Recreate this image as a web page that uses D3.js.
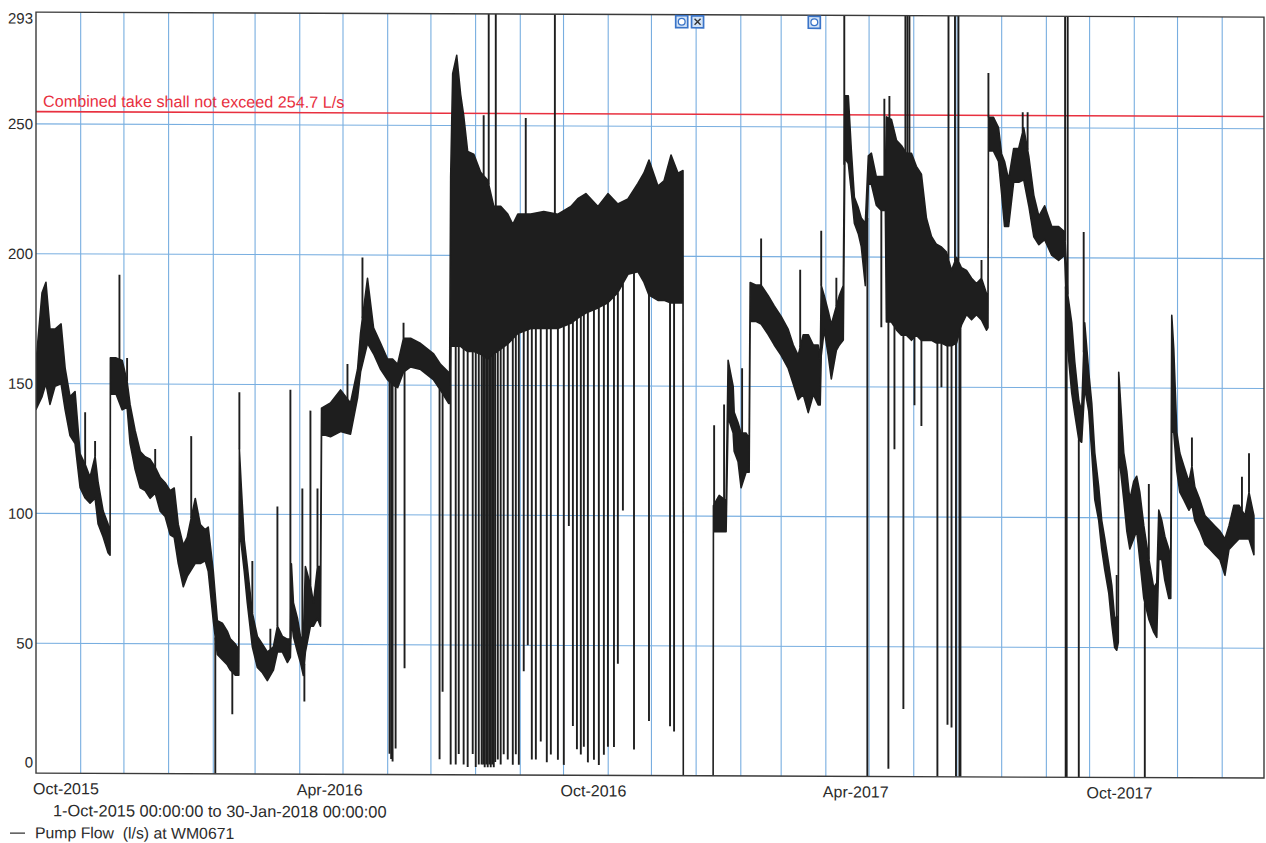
<!DOCTYPE html>
<html lang="en">
<head>
<meta charset="UTF-8">
<title>Pump Flow at WM0671</title>
<script src="https://d3js.org/d3.v7.min.js"></script>
<style>
  body { margin: 0; background: #fff; }
  svg { display: block; font-family: "Liberation Sans", Arial, sans-serif; }
</style>
</head>
<body>
<svg id="chart" width="1266" height="843"></svg>
<script>
// record runs 1-Oct-2015 .. 30-Jan-2018, day = days since 1-Oct-2015
// envelope of the flow trace: [day, low l/s, high l/s]
const flowBand = [
  [0, 140, 158], [4.2, 145, 185], [6.9, 150, 189], [9.7, 142, 171], [13.2, 149, 171], [17.4, 150, 173],
  [20.2, 140, 156], [23.6, 130, 145], [27.1, 127, 147], [30.6, 110, 123], [34.1, 106, 119], [37.5, 104, 114],
  [41.0, 106, 122], [43.1, 96, 112], [46.6, 91, 101], [50.0, 85, 96], [51.4, 84, 92], [51.6, 146, 160],
  [55.6, 146, 160], [59.8, 140, 159], [63.2, 141, 151], [65.3, 127, 142], [68.8, 117, 132], [72.3, 110, 124],
  [75.7, 109, 122], [79.2, 106, 121], [82.7, 108, 118], [86.2, 101, 114], [89.6, 99, 112], [93.1, 92, 109],
  [95.9, 91, 110], [98.7, 81, 96], [102.2, 72, 88], [104.9, 76, 91], [110.5, 81, 106], [114.0, 81, 96],
  [117.4, 82, 94], [119.5, 78, 95], [123.0, 59, 78], [125.8, 46, 59], [129.3, 44, 58], [132.7, 42, 55],
  [134.8, 40, 52], [138.3, 38, 50], [140.7, 38, 48], [141.1, 95, 125], [142.5, 88, 110], [144.5, 78, 90],
  [146.6, 66, 80], [150.1, 49, 62], [153.6, 41, 53], [157.1, 39, 50], [160.5, 36, 47], [164.7, 40, 49],
  [167.5, 47, 57], [171.0, 47, 53], [174.4, 43, 52], [176.5, 45, 52], [177.2, 60, 81], [178.6, 53, 66],
  [181.4, 47, 60], [183.5, 43, 53], [185.5, 38, 52], [186.9, 47, 80], [190.4, 57, 73], [192.5, 57, 66],
  [195.3, 60, 80], [197.4, 57, 80], [198.1, 131, 141], [204.3, 130, 143], [211.3, 132, 148], [218.2, 131, 143],
  [223.1, 145, 156], [225.2, 155, 170], [230.0, 166, 191], [234.2, 162, 172], [239.1, 156, 166], [243.9, 152, 160],
  [247.4, 150, 160], [250.9, 149, 158], [255.0, 155, 168], [259.9, 157, 168], [266.9, 156, 166], [275.9, 152, 162],
  [280.7, 148, 158], [286.3, 143, 155], [287.0, 143, 155],
  [287.7, 165, 230], [289.1, 165, 270], [291.9, 165, 277], [294.6, 165, 262], [296.7, 164, 254], [299.5, 163, 240],
  [303.7, 163, 239], [308.5, 162, 232], [313.4, 160, 229], [317.6, 162, 219], [322.4, 164, 219], [327.3, 166, 216],
  [330.8, 168, 212], [334.3, 170, 216], [343.3, 172, 216], [352.3, 172, 217], [362.1, 172, 216], [371.1, 174, 219],
  [375.9, 176, 222], [381.5, 178, 224], [389.9, 180, 219], [396.8, 182, 224], [403.7, 186, 220], [410.7, 193, 222],
  [417.6, 194, 228], [421.8, 190, 232], [425.3, 185, 237], [431.5, 183, 227], [435.7, 183, 229], [440.6, 182, 239],
  [445.4, 182, 232], [448.9, 182, 233], [449.1, 0, 0], [469.8, 0, 0],
  [470.0, 94, 104], [474.0, 94, 108], [478.8, 94, 106], [480.2, 138, 160], [483.7, 132, 150], [484.4, 125, 140],
  [487.1, 121, 136], [489.2, 111, 132], [492.7, 117, 132], [494.8, 117, 130], [495.5, 175, 190], [499.7, 175, 189],
  [503.1, 174, 189], [508.0, 170, 185], [512.2, 166, 181], [517.0, 162, 177], [521.9, 157, 172], [525.4, 151, 166],
  [528.8, 145, 162], [532.3, 147, 170], [535.8, 140, 170], [539.3, 147, 166], [542.7, 143, 166], [544.1, 143, 160],
  [544.8, 162, 189], [546.9, 172, 185], [549.7, 162, 179], [551.8, 153, 174], [555.3, 164, 181], [557.3, 166, 185],
  [560.1, 168, 189], [561.2, 238, 262], [563.6, 236, 262], [565.7, 225, 241], [567.8, 213, 223], [570.5, 209, 219],
  [572.6, 204, 215], [575.4, 189, 213], [577.5, 228, 239], [579.6, 228, 240], [583.0, 220, 231], [586.5, 218, 231],
  [589.3, 218, 231], [590.0, 175, 254], [593.5, 175, 253], [597.0, 172, 245], [600.4, 170, 243], [603.9, 170, 240],
  [607.4, 168, 240], [610.8, 170, 235], [614.3, 168, 232], [617.8, 168, 215], [621.3, 168, 208], [624.7, 167, 205],
  [628.2, 167, 204], [631.7, 166, 202], [635.2, 166, 195], [638.7, 167, 200], [642.1, 174, 196], [645.6, 178, 195],
  [649.1, 176, 192], [652.5, 178, 190], [656.0, 176, 192], [659.5, 172, 186], [660.5, 173, 186],
  [660.8, 241, 254], [664.3, 241, 254], [667.8, 237, 250], [669.9, 225, 240], [672.0, 212, 237], [674.8, 212, 230],
  [678.3, 229, 242], [681.8, 229, 242], [685.3, 230, 250], [688.8, 220, 239], [692.3, 208, 224], [695.8, 205, 216],
  [699.8, 207, 220], [704.7, 201, 212], [709.5, 199, 212], [713.7, 201, 210], [715.8, 165, 186], [718.6, 148, 175],
  [720.7, 140, 160], [723.5, 130, 145], [725.5, 129, 141], [727.6, 150, 175], [730.4, 141, 156], [732.5, 125, 144],
  [734.6, 107, 125], [737.3, 99, 112], [739.4, 88, 99], [741.5, 80, 92], [744.3, 71, 82], [746.4, 59, 74],
  [748.4, 50, 61], [749.8, 49, 62], [750.9, 52, 62], [751.2, 125, 156], [754.7, 107, 125], [756.8, 95, 118],
  [758.9, 88, 107], [761.6, 92, 114], [763.7, 95, 116], [765.8, 84, 110], [768.6, 69, 97], [772.1, 61, 84],
  [775.5, 56, 73], [777.6, 54, 75], [779.0, 84, 103], [781.1, 84, 99], [783.2, 76, 93], [786.0, 69, 88],
  [787.3, 69, 84], [788.0, 133, 178], [789.4, 133, 165], [791.5, 118, 133], [793.6, 110, 125], [796.4, 107, 120],
  [799.9, 103, 114], [802.0, 105, 120], [804.0, 99, 112], [807.5, 95, 107], [811.0, 90, 101], [814.5, 88, 99],
  [817.9, 86, 97], [821.4, 84, 95], [824.9, 78, 92], [827.7, 88, 97], [831.1, 90, 105], [834.6, 92, 105],
  [838.8, 92, 101], [841.6, 92, 110], [845.0, 86, 101]
];

// single readings that shoot away from the envelope: [day, l/s]
const flowSpikes = [
  [34.1, 139], [41.0, 128], [57.9, 192], [63.2, 160], [82.7, 125], [107.7, 130], [124.4, 0], [136.2, 23],
  [141.1, 147], [150.1, 82], [162.6, 56], [167.5, 103], [176.5, 148], [184.8, 110], [186.2, 28], [190.4, 140],
  [195.3, 110], [216.1, 158], [226.5, 199], [245.3, 8], [246.4, 6], [247.4, 5], [249.5, 10], [255.0, 174], [255.7, 41],
  [280.0, 6], [282.1, 32],
  [287.7, 4], [291.2, 4], [293.3, 8], [296.7, 4], [299.5, 3], [303.0, 8], [305.1, 3], [307.2, 4],
  [309.2, 4], [310.3, 4], [311.3, 3], [312.4, 4], [313.4, 3], [314.5, 4], [315.5, 3], [316.5, 4],
  [317.6, 3], [318.6, 5], [320.4, 6], [322.4, 4], [324.5, 8], [327.3, 6], [330.8, 4], [332.9, 8],
  [335.0, 4], [338.4, 40], [341.2, 50], [344.0, 6], [346.8, 6], [350.2, 13], [354.4, 5], [357.2, 8],
  [362.1, 6], [366.2, 4], [369.7, 96], [372.5, 19], [375.3, 10], [378.0, 8], [380.1, 11], [382.9, 5],
  [387.1, 6], [390.5, 4], [394.0, 8], [396.8, 11], [401.0, 11], [403.7, 43], [407.2, 102], [414.9, 10],
  [425.3, 21], [439.9, 19], [442.7, 17],
  [310.6, 254], [314.1, 293], [319.0, 293], [339.8, 253], [360.0, 293],
  [470.5, 135], [477.4, 143], [489.9, 157], [503.1, 207], [530.2, 195], [544.8, 210], [555.3, 192], [560.8, 293],
  [576.8, 0], [586.5, 173], [588.6, 261], [591.4, 3], [592.1, 262], [595.6, 126], [601.8, 26], [603.2, 293],
  [604.6, 293], [606.0, 293], [609.5, 143], [614.3, 135], [625.4, 0], [628.2, 150], [632.4, 20], [633.1, 293],
  [635.2, 19], [637.6, 293], [638.3, 0], [640.0, 293], [640.7, 0], [641.4, 0], [656.0, 199], [660.8, 271],
  [684.6, 256], [688.0, 256], [714.0, 293], [714.4, 0], [715.1, 0], [715.8, 293], [723.5, 0], [726.9, 210],
  [749.8, 78], [769.3, 0], [772.1, 113], [802.0, 131], [836.7, 116], [841.6, 125]
];

// quality flags along the top edge: [day, symbol]
const gapMarkers = [[448, "o"], [459, "x"], [540, "o"]];

const yTicks = [0, 50, 100, 150, 200, 250, 293];
const xLabelDates = ["2015-10-01", "2016-04-01", "2016-10-01", "2017-04-01", "2017-10-01"];
const limitValue = 254.7;
const limitLabel = "Combined take shall not exceed 254.7 L/s";
const periodLabel = "1-Oct-2015 00:00:00 to 30-Jan-2018 00:00:00";
const seriesLabel = "Pump Flow  (l/s) at WM0671";

const t0 = new Date(2015, 9, 1);
const t1 = new Date(2018, 0, 30);
const ink = "#1e1e1e";
const gridBlue = "#78aee0";

const x = d3.scaleTime().domain([t0, t1]).range([36, 1264]);
const y = d3.scaleLinear().domain([0, 293]).range([773, 12]);
const dayX = d => x(new Date(t0.getTime() + d * 864e5));

const svg = d3.select("#chart");
// the scanned page sits very slightly askew
const root = svg.append("g").attr("transform", "skewY(0.23)");

svg.append("defs").append("clipPath").attr("id", "plotClip")
  .append("rect").attr("x", 36).attr("y", 12).attr("width", 1228).attr("height", 761);

// grid
const grid = root.append("g").attr("stroke", gridBlue).attr("stroke-width", 1.1);
grid.selectAll("line.v")
  .data(d3.timeMonth.range(d3.timeMonth.offset(t0, 1), t1))
  .join("line").attr("class", "v")
  .attr("x1", d => x(d)).attr("x2", d => x(d))
  .attr("y1", 12).attr("y2", 773);
grid.selectAll("line.h")
  .data(yTicks.filter(v => v > 0 && v < 293))
  .join("line").attr("class", "h")
  .attr("x1", 36).attr("x2", 1264)
  .attr("y1", d => y(d)).attr("y2", d => y(d));

// consent limit
root.append("line")
  .attr("x1", 36).attr("x2", 1264)
  .attr("y1", y(limitValue)).attr("y2", y(limitValue))
  .attr("stroke", "#e8303f").attr("stroke-width", 1.6);

// flow trace
const plot = root.append("g").attr("clip-path", "url(#plotClip)");
const area = d3.area()
  .x(p => dayX(p[0]))
  .y0(p => y(p[1]))
  .y1(p => y(p[2]));
plot.append("path")
  .attr("d", area(flowBand))
  .attr("fill", ink)
  .attr("stroke", ink)
  .attr("stroke-width", 1.6)
  .attr("stroke-linejoin", "round");

const bisect = d3.bisector(p => p[0]).left;
function bandAt(d) {
  const i = bisect(flowBand, d);
  const a = flowBand[Math.max(0, i - 1)];
  const b = flowBand[Math.min(flowBand.length - 1, i)];
  const t = b[0] === a[0] ? 0 : (d - a[0]) / (b[0] - a[0]);
  return [a[1] + (b[1] - a[1]) * t, a[2] + (b[2] - a[2]) * t];
}

plot.selectAll("line.spike")
  .data(flowSpikes)
  .join("line").attr("class", "spike")
  .attr("x1", d => dayX(d[0])).attr("x2", d => dayX(d[0]))
  .attr("y1", d => {
    const [lo, hi] = bandAt(d[0]);
    return y(d[1] > hi ? hi : lo);
  })
  .attr("y2", d => y(d[1]))
  .attr("stroke", ink)
  .attr("stroke-width", 1.9);

// frame
root.append("rect")
  .attr("x", 36).attr("y", 12).attr("width", 1228).attr("height", 761)
  .attr("fill", "none").attr("stroke", "#3a3a3a").attr("stroke-width", 1.4);

// flags on the top edge
const flags = root.append("g");
gapMarkers.forEach(([d, s]) => {
  const cx = dayX(d), cy = 19;
  flags.append("rect")
    .attr("x", cx - 6).attr("y", cy - 6).attr("width", 12).attr("height", 12)
    .attr("fill", "#d3e3f6").attr("stroke", "#3a74c8").attr("stroke-width", 1.7);
  if (s === "o") {
    flags.append("circle").attr("cx", cx).attr("cy", cy).attr("r", 3.4)
      .attr("fill", "#fff").attr("stroke", "#3a74c8").attr("stroke-width", 1.3);
  } else {
    flags.append("path")
      .attr("d", `M${cx - 3},${cy - 3}L${cx + 3},${cy + 3}M${cx + 3},${cy - 3}L${cx - 3},${cy + 3}`)
      .attr("stroke", "#333").attr("stroke-width", 1.4);
  }
});

// texts
const txt = root.append("g").attr("fill", "#2b2b2b").attr("font-size", "15px");
txt.selectAll("text.yl")
  .data(yTicks)
  .join("text").attr("class", "yl")
  .attr("x", 33)
  .attr("y", d => d === 293 ? y(d) + 6 : d === 0 ? y(d) - 11 : y(d))
  .attr("dy", "0.36em")
  .attr("text-anchor", "end")
  .text(d => d);

const fmt = d3.timeFormat("%b-%Y");
txt.selectAll("text.xl")
  .data(xLabelDates.map(s => d3.timeParse("%Y-%m-%d")(s)))
  .join("text").attr("class", "xl")
  .attr("x", d => x(d) - 3)
  .attr("y", 794)
  .attr("font-size", "16px")
  .text(d => fmt(d));

txt.append("text").attr("x", 53).attr("y", 816).attr("font-size", "16.4px").text(periodLabel);

root.append("line").attr("x1", 10).attr("x2", 25).attr("y1", 833).attr("y2", 833)
  .attr("stroke", "#333").attr("stroke-width", 1.2);
txt.append("text").attr("x", 35).attr("y", 838).attr("font-size", "15.8px")
  .style("white-space", "pre").text(seriesLabel);

root.append("text")
  .attr("x", 43).attr("y", y(limitValue) - 5)
  .attr("fill", "#e8303f").attr("font-size", "16.2px")
  .text(limitLabel);
</script>
</body>
</html>
